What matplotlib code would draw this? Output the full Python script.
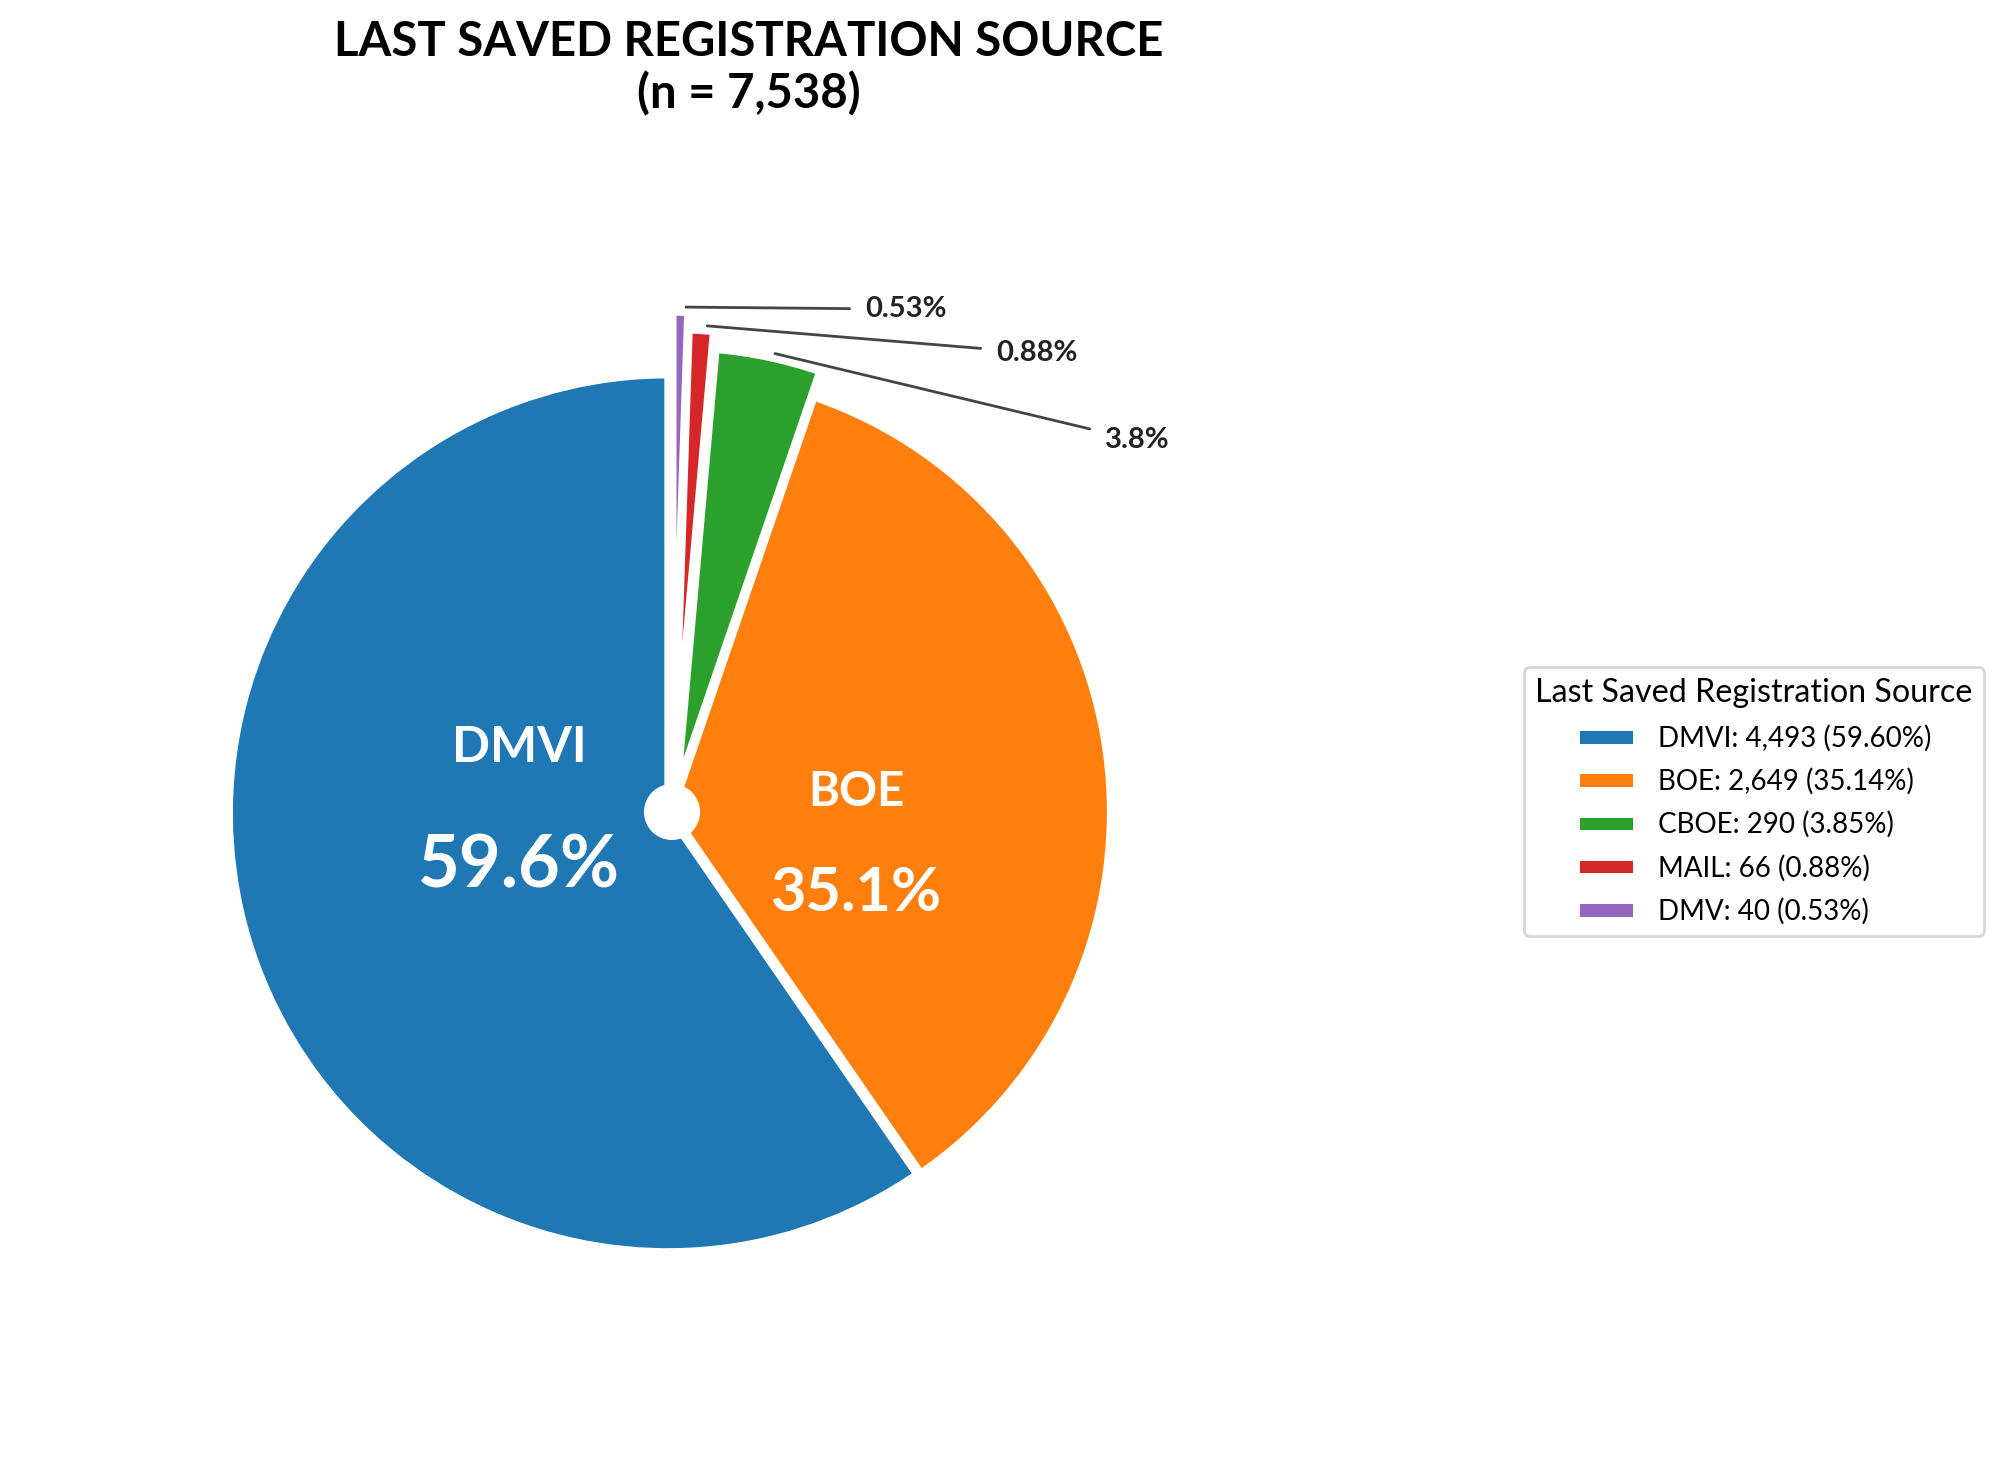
import matplotlib
matplotlib.use('Agg')
import matplotlib.pyplot as plt
from matplotlib.patches import Circle
import numpy as np

# ---- data ----
sources = ['DMVI', 'BOE', 'CBOE', 'MAIL', 'DMV']
counts = [4493, 2649, 290, 66, 40]
colors = ['#1f77b4', '#ff7f0e', '#2ca02c', '#d62728', '#9467bd']
explode = [0.01, 0.0, 0.06, 0.10, 0.14]
title_main = 'LAST SAVED REGISTRATION SOURCE'
legend_title = 'Last Saved Registration Source'

plt.rcParams['font.family'] = ['Lato', 'DejaVu Sans']

total = sum(counts)
pcts = [c / total * 100 for c in counts]

fig = plt.figure(figsize=(10, 7.315), dpi=200)
ax = fig.add_axes([0.05325, 0.05844, 0.5655, 0.7731])
wedges, _ = ax.pie(counts, colors=colors, explode=explode, startangle=90,
                   counterclock=True,
                   wedgeprops=dict(edgecolor='white', linewidth=2.5))
lim = 1.29
ax.set_xlim(-lim, lim)
ax.set_ylim(-lim, lim)
ax.set_aspect('equal')
ax.axis('off')
ax.add_patch(Circle((0, 0), 0.064, facecolor='white', edgecolor='none', zorder=5))

# inside labels (large slices)
inner_pos = {0: (-0.349, 0.146, -0.125), 1: (0.420, 0.045, -0.185)}
inner_label_size = {0: 18, 1: 17}
inner_pct_size = {0: 26, 1: 22}
for i, (x, yl, yp) in inner_pos.items():
    ax.text(x, yl, sources[i], ha='center', va='center', color='white',
            fontweight='bold', fontsize=inner_label_size[i], zorder=6)
    ax.text(x, yp, f"{pcts[i]:.1f}%", ha='center', va='center', color='white',
            fontweight='bold', fontsize=inner_pct_size[i], zorder=6)

# outside labels (small slices)
outer_text_pos = {2: (0.987, 0.848), 3: (0.739, 1.047), 4: (0.440, 1.147)}
for i, pos in outer_text_pos.items():
    w = wedges[i]
    th = np.deg2rad((w.theta1 + w.theta2) / 2)
    r = 1 + explode[i] + 0.012
    p = pcts[i]
    txt = f"{p:.2f}%" if p < 1 else f"{p:.1f}%"
    ax.annotate(txt, xy=(r * np.cos(th), r * np.sin(th)), xytext=pos,
                ha='left', va='center', fontsize=10.5, fontweight='bold',
                color='#222222', annotation_clip=False,
                arrowprops=dict(arrowstyle='-', color='#444444', lw=1.0,
                                shrinkA=3.5, shrinkB=2))

fig.text(0.3745, 1 - 68 / 1463, f"{title_main}\n(n = {total:,})", ha='center',
         va='center', fontsize=17, fontweight='bold', color='black')

labels = [f"{s}: {c:,} ({p:.2f}%)" for s, c, p in zip(sources, counts, pcts)]
leg = fig.legend(wedges, labels, title=legend_title, loc='center left',
                 bbox_to_anchor=(0.762, 1 - 801.5 / 1463),
                 bbox_transform=fig.transFigure, borderaxespad=0,
                 fontsize=10, title_fontsize=11.6, frameon=True,
                 labelspacing=0.59, handlelength=2.15)
leg.get_frame().set_edgecolor('0.8')

fig.savefig('out.png', dpi=200)
